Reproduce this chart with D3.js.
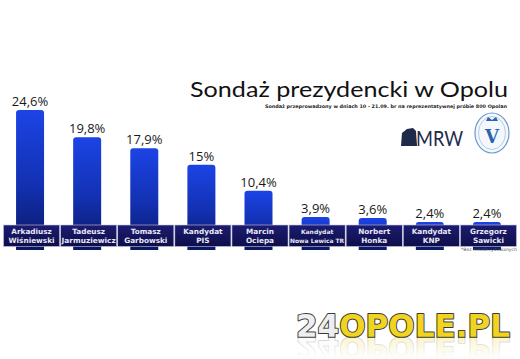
<!DOCTYPE html>
<html><head><meta charset="utf-8">
<script src="https://cdn.jsdelivr.net/npm/d3@7/dist/d3.min.js"></script>
<style>html,body{margin:0;padding:0;background:#fff;}svg{display:block;}</style>
</head><body>
<script>
const names1 = ["Arkadiusz","Tadeusz","Tomasz","Kandydat","Marcin","Kandydat","Norbert","Kandydat","Grzegorz"];
const names2 = ["Wiśniewski","Jarmuziewicz","Garbowski","PIS","Ociepa","Nowa Lewica TR","Honka","KNP","Sawicki"];
const values = [24.6, 19.8, 17.9, 15, 10.4, 3.9, 3.6, 2.4, 2.4];
const valueLabels = ["24,6%","19,8%","17,9%","15%","10,4%","3,9%","3,6%","2,4%","2,4%"];
const title = "Sondaż prezydencki w Opolu";
const subtitle = "Sondaż przeprowadzony w dniach 10 - 21.09. br na reprezentatywnej próbie 800 Opolan";
const footnote = "*Bez niezdecydowanych";

const W = 520, H = 359;
const svg = d3.select("body").append("svg").attr("width", W).attr("height", H);
const defs = svg.append("defs");
const g1 = defs.append("linearGradient").attr("id","barG").attr("x1",0).attr("y1",0).attr("x2",0).attr("y2",1);
g1.append("stop").attr("offset","0%").attr("stop-color","#1c44e6");
g1.append("stop").attr("offset","55%").attr("stop-color","#1230b0");
g1.append("stop").attr("offset","100%").attr("stop-color","#0a1760");
const g2 = defs.append("linearGradient").attr("id","bandG").attr("x1",0).attr("y1",0).attr("x2",0).attr("y2",1);
g2.append("stop").attr("offset","0%").attr("stop-color","#1c1c72");
g2.append("stop").attr("offset","100%").attr("stop-color","#0e0e4a");
const g3 = defs.append("linearGradient").attr("id","reflG").attr("x1",0).attr("y1",0).attr("x2",0).attr("y2",1);
g3.append("stop").attr("offset","0%").attr("stop-color","#fff").attr("stop-opacity",0);
g3.append("stop").attr("offset","100%").attr("stop-color","#fff").attr("stop-opacity",1);

const idx = d3.range(values.length);
const x = d3.scaleBand().domain(idx).range([3, 517]).paddingInner(0).paddingOuter(0);
const y = d3.scaleLinear().domain([0, 24.6]).range([250, 110]);
// minimum visible height for small bars (they rise above the label band)
const yMin = d3.scaleLinear().domain([0, 3.9]).range([230, 217]);
const barW = 28;
const bandTop = 225, bandBot = 246.5;
const cxOf = i => x(i) + x.bandwidth()/2 - 1.5;
const topOf = i => Math.min(y(values[i]), yMin(values[i]));

// bars
svg.append("g").selectAll("path").data(idx).join("path")
  .attr("d", i => {
    const cx = cxOf(i);
    const x0 = cx - barW/2, x1 = cx + barW/2;
    const t = topOf(i), b = y(0), r = 3;
    return `M${x0},${b}L${x0},${t+r}Q${x0},${t} ${x0+r},${t}L${x1-r},${t}Q${x1},${t} ${x1},${t+r}L${x1},${b}Z`;
  })
  .attr("fill", "url(#barG)");

// value labels
svg.append("g").selectAll("text").data(idx).join("text")
  .attr("x", cxOf)
  .attr("y", i => topOf(i) - 4)
  .attr("text-anchor","middle")
  .attr("font-family","'Open Sans', 'DejaVu Sans', sans-serif")
  .attr("font-size", 13)
  .attr("fill","#1a1a1a")
  .text(i => valueLabels[i]);

// label band
const band = svg.append("g");
band.selectAll("rect").data(idx).join("rect")
  .attr("x", i => x(i) + 0.5)
  .attr("y", bandTop)
  .attr("width", x.bandwidth() - 1)
  .attr("height", bandBot - bandTop)
  .attr("fill","url(#bandG)")
  .attr("stroke","#c8c8e0")
  .attr("stroke-width",0.6);
band.selectAll("text.l1").data(idx).join("text").attr("class","l1")
  .attr("x", i => x(i) + x.bandwidth()/2)
  .attr("y", bandTop + 8.5)
  .attr("text-anchor","middle")
  .attr("font-family","'DejaVu Sans', sans-serif")
  .attr("font-weight","bold")
  .attr("font-size", i => names2[i].length > 12 ? 6 : 7.3)
  .attr("fill","#e8e8f4")
  .text(i => names1[i]);
band.selectAll("text.l2").data(idx).join("text").attr("class","l2")
  .attr("x", i => x(i) + x.bandwidth()/2)
  .attr("y", bandTop + 18)
  .attr("text-anchor","middle")
  .attr("font-family","'DejaVu Sans', sans-serif")
  .attr("font-weight","bold")
  .attr("font-size", i => names2[i].length > 12 ? 6 : 7.3)
  .attr("textLength", i => names2[i].length > 11 ? x.bandwidth() - 3 : null)
  .attr("lengthAdjust","spacingAndGlyphs")
  .attr("fill","#e8e8f4")
  .text(i => names2[i]);

// footnote
svg.append("text").attr("x", 517).attr("y", 251).attr("text-anchor","end")
  .attr("font-family","'DejaVu Sans', sans-serif").attr("font-size",4.6).attr("fill","#555")
  .text(footnote);

// title
svg.append("text").attr("x", 190).attr("y", 97)
  .attr("font-family","'Lato', 'DejaVu Sans', sans-serif")
  .attr("font-size", 21).attr("fill","#111")
  .attr("textLength", 318).attr("lengthAdjust","spacingAndGlyphs")
  .text(title);
svg.append("text").attr("x", 507).attr("y", 108).attr("text-anchor","end")
  .attr("font-family","'DejaVu Sans', sans-serif").attr("font-weight","bold")
  .attr("font-size", 4.8).attr("fill","#222")
  .attr("textLength", 242).attr("lengthAdjust","spacingAndGlyphs")
  .text(subtitle);

// MRW logo
const mrw = svg.append("g");
mrw.append("path").attr("d","M401,146 L402,133 L407,129 L413,128 L416,131 L417,146 Z").attr("fill","#1e2a4a");
mrw.append("text").attr("x", 416).attr("y", 146)
  .attr("font-family","'Lato', 'DejaVu Sans', sans-serif").attr("font-size", 21)
  .attr("fill","#1e2a4a").attr("textLength",47).attr("lengthAdjust","spacingAndGlyphs").text("MRW");
// emblem
const em = svg.append("g");
em.append("ellipse").attr("cx",492).attr("cy",133).attr("rx",17).attr("ry",20)
  .attr("fill","#f4f8fc").attr("stroke","#6a9ac8").attr("stroke-width",1.2);
em.append("ellipse").attr("cx",492).attr("cy",133).attr("rx",13.5).attr("ry",16.5)
  .attr("fill","none").attr("stroke","#9ab8d8").attr("stroke-width",0.7);
em.append("text").attr("x",492).attr("y",143).attr("text-anchor","middle")
  .attr("font-family","'DejaVu Serif', serif").attr("font-weight","bold").attr("font-size",18)
  .attr("fill","#2a64b0").text("V");
em.append("path").attr("d","M486,121 L488,117 L492,120 L496,117 L498,121 Z").attr("fill","#2a64b0");

// 24OPOLE.PL logo
const lg = svg.append("g");
const logoFont = "'DejaVu Sans', sans-serif";
const lt = lg.append("text").attr("id","logoText").attr("x",296).attr("y",337)
  .attr("font-family",logoFont).attr("font-weight","bold")
  .attr("font-size",32).attr("textLength",214).attr("lengthAdjust","spacingAndGlyphs")
  .attr("stroke","#3a3a3a").attr("stroke-width",2).attr("paint-order","stroke")
  .attr("stroke-linejoin","round");
lt.append("tspan").attr("fill","#eeeeee").text("24");
lt.append("tspan").attr("fill","#f0d420").text("OPOLE.PL");
// reflection (graphic copy of the logo, faded)
lg.append("use").attr("href","#logoText")
  .attr("transform","translate(0,674) scale(1,-1)").attr("opacity",0.22);
lg.append("rect").attr("x",290).attr("y",337.5).attr("width",225).attr("height",21.5).attr("fill","url(#reflG)");
</script>
</body></html>
